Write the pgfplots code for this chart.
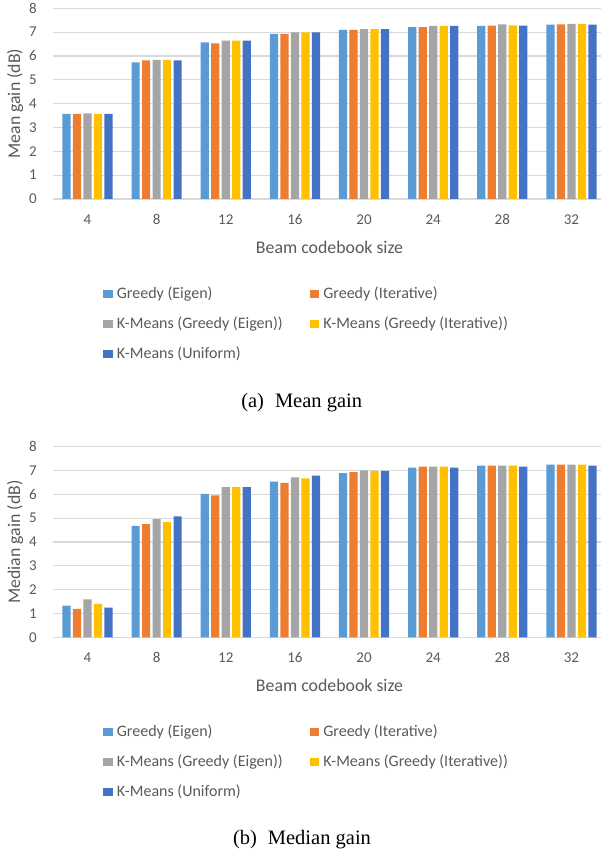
\documentclass[border=0pt]{standalone}
\usepackage{pgfplots}
\pgfplotsset{compat=1.18}
\usepackage{fontspec}
\setmainfont{Carlito}
\newfontfamily\capfont{Liberation Serif}
\definecolor{cA}{HTML}{5B9BD5}
\definecolor{cB}{HTML}{ED7D31}
\definecolor{cC}{HTML}{A5A5A5}
\definecolor{cD}{HTML}{FFC000}
\definecolor{cE}{HTML}{4472C4}
\definecolor{gridc}{HTML}{D9D9D9}
\definecolor{txt}{HTML}{595959}

\pgfplotsset{
 gainchart/.style={
  scale only axis, width=548.1pt, height=190.7pt, anchor=south west,
  xmin=-0.5, xmax=7.427, ymin=0, ymax=8,
  ybar=2.3pt, bar width=8.2pt,
  axis x line*=bottom, axis y line*=left,
  x axis line style={draw=gridc, line width=1.2pt, -},
  y axis line style={draw=none},
  major tick length=0pt,
  ymajorgrids, grid style={draw=gridc, line width=1.2pt},
  xtick={0,...,7}, xticklabels={4,8,12,16,20,24,28,32},
  ytick={0,...,8},
  /pgf/number format/assume math mode=true,
  tick label style={font=\fontsize{15}{18}\selectfont, text=txt},
  xticklabel style={anchor=center, yshift=-20.5pt},
  yticklabel style={anchor=east, inner sep=0pt, xshift=-16pt},
  every axis x label/.style={at={(axis description cs:0.5047,-0.2517)}, anchor=center, font=\fontsize{17.8}{21}\selectfont, text=txt},
  every axis y label/.style={at={(axis description cs:-0.0691,0.5)}, anchor=center, rotate=90, font=\fontsize{17.8}{21}\selectfont, text=txt},
  legend columns=2,
  legend cell align=left,
  legend style={at={(axis description cs:0.0914,-0.4562)}, anchor=north west, draw=none, fill=none, inner sep=0pt,
    font=\fontsize{16}{19}\selectfont, text=txt,
    nodes={inner sep=0pt, text height=12pt, text depth=4pt},
    cells={anchor=west},
    row sep=14pt,
    /tikz/every odd column/.append style={column sep=4.2pt},
    /tikz/every even column/.append style={column sep=26.9pt}},
  legend image code/.code={\fill[##1] (0pt,-4pt) rectangle (9.5pt,4pt);},
 }
}

\begin{document}
\begin{tikzpicture}[x=1pt,y=1pt]
\useasboundingbox (0,0) rectangle (601,855);
\begin{axis}[gainchart, at={(52.9pt,656pt)}, xlabel={Beam codebook size}, ylabel={Mean gain (dB)}]
\addplot[fill=cA, draw=none] coordinates {(0,3.57) (1,5.73) (2,6.57) (3,6.93) (4,7.10) (5,7.21) (6,7.26) (7,7.31)};
\addplot[fill=cB, draw=none] coordinates {(0,3.57) (1,5.82) (2,6.53) (3,6.93) (4,7.09) (5,7.21) (6,7.27) (7,7.33)};
\addplot[fill=cC, draw=none] coordinates {(0,3.59) (1,5.84) (2,6.64) (3,6.99) (4,7.13) (5,7.26) (6,7.33) (7,7.35)};
\addplot[fill=cD, draw=none] coordinates {(0,3.57) (1,5.84) (2,6.64) (3,6.99) (4,7.13) (5,7.26) (6,7.28) (7,7.35)};
\addplot[fill=cE, draw=none] coordinates {(0,3.57) (1,5.82) (2,6.64) (3,6.99) (4,7.13) (5,7.26) (6,7.27) (7,7.31)};
\legend{Greedy (Eigen), Greedy (Iterative), K-Means (Greedy (Eigen)), K-Means (Greedy (Iterative)), K-Means (Uniform)}
\end{axis}
\node[font=\capfont\fontsize{20.5}{24}\selectfont, inner sep=0pt] at (301.7,452) {(a)\hspace{11pt}Mean gain};

\begin{axis}[gainchart, at={(52.9pt,217.7pt)}, xlabel={Beam codebook size}, ylabel={Median gain (dB)}]
\addplot[fill=cA, draw=none] coordinates {(0,1.33) (1,4.67) (2,6.02) (3,6.53) (4,6.89) (5,7.12) (6,7.20) (7,7.24)};
\addplot[fill=cB, draw=none] coordinates {(0,1.19) (1,4.75) (2,5.95) (3,6.48) (4,6.93) (5,7.16) (6,7.20) (7,7.24)};
\addplot[fill=cC, draw=none] coordinates {(0,1.59) (1,4.96) (2,6.30) (3,6.71) (4,7.00) (5,7.16) (6,7.20) (7,7.24)};
\addplot[fill=cD, draw=none] coordinates {(0,1.40) (1,4.83) (2,6.30) (3,6.67) (4,6.98) (5,7.16) (6,7.20) (7,7.24)};
\addplot[fill=cE, draw=none] coordinates {(0,1.24) (1,5.07) (2,6.30) (3,6.78) (4,6.98) (5,7.12) (6,7.16) (7,7.20)};
\legend{Greedy (Eigen), Greedy (Iterative), K-Means (Greedy (Eigen)), K-Means (Greedy (Iterative)), K-Means (Uniform)}
\end{axis}
\node[font=\capfont\fontsize{20.5}{24}\selectfont, inner sep=0pt] at (302,15) {(b)\hspace{11pt}Median gain};
\end{tikzpicture}
\end{document}
